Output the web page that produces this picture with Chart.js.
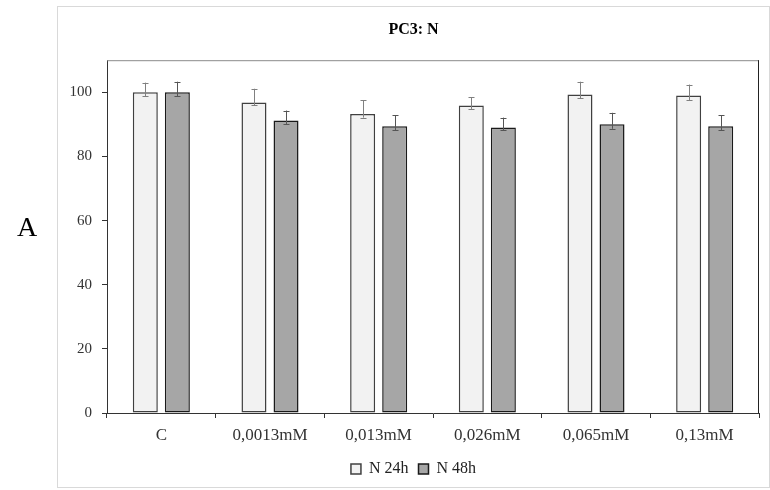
<!DOCTYPE html>
<html>
<head>
<meta charset="utf-8">
<script src="https://cdn.jsdelivr.net/npm/chart.js@4"></script>
<style>
  body { margin: 0; background: #fff; }
  #wrap { position: relative; width: 770px; height: 490px; }
</style>
</head>
<body>
<div id="wrap"><canvas id="chart" width="770" height="490"></canvas></div>
<script>
// Data
const categories = ["C", "0,0013mM", "0,013mM", "0,026mM", "0,065mM", "0,13mM"];
const n24 = [100, 96.8, 93.2, 95.9, 99.3, 99.0];
const n48 = [100, 91.2, 89.4, 89.0, 90.0, 89.4];
const err24Plus = [3.0, 4.3, 4.3, 2.5, 4.0, 3.4];
const err24Minus = [1.3, 0.9, 1.1, 1.1, 1.2, 1.4];
const err48Plus = [3.3, 3.1, 3.4, 3.1, 3.6, 3.5];
const err48Minus = [1.3, 1.2, 1.2, 0.8, 1.4, 1.2];
const yTicks = [0, 20, 40, 60, 80, 100];

const serif = "'Liberation Serif', 'DejaVu Serif', serif";

// frame around the chart, the big "A" and the plot box top/right
const framePlugin = {
    id: 'frame',
    beforeDraw(chart) {
        const ctx = chart.ctx;
        ctx.save();
        ctx.fillStyle = '#fff';
        ctx.fillRect(0, 0, chart.width, chart.height);
        ctx.strokeStyle = '#d9d9d9';
        ctx.lineWidth = 1;
        ctx.strokeRect(57.5, 6.5, 712, 481);
        ctx.fillStyle = '#000';
        ctx.font = "28px " + serif;
        ctx.textAlign = 'center';
        ctx.textBaseline = 'middle';
        ctx.fillText('A', 27, 229);
        ctx.restore();
    },
    afterDraw(chart) {
        const a = chart.chartArea;
        const ctx = chart.ctx;
        ctx.save();
        ctx.lineWidth = 1;
        ctx.strokeStyle = '#8c8c8c';
        ctx.beginPath();
        ctx.moveTo(a.left, a.top + 0.5);
        ctx.lineTo(a.right, a.top + 0.5);
        ctx.stroke();
        ctx.strokeStyle = '#222';
        ctx.beginPath();
        ctx.moveTo(a.right - 0.5, a.top);
        ctx.lineTo(a.right - 0.5, a.bottom);
        ctx.stroke();
        ctx.restore();
    }
};

// error bars drawn on top of each bar
const errorPlugin = {
    id: 'errors',
    afterDatasetsDraw(chart) {
        const ctx = chart.ctx;
        const y = chart.scales.y;
        const sets = [
            { plus: err24Plus, minus: err24Minus, color: '#808080' },
            { plus: err48Plus, minus: err48Minus, color: '#555555' }
        ];
        ctx.save();
        ctx.lineWidth = 1;
        sets.forEach((s, di) => {
            const meta = chart.getDatasetMeta(di);
            const values = chart.data.datasets[di].data;
            meta.data.forEach((bar, i) => {
                const x = Math.round(bar.x) + 0.5;
                const top = y.getPixelForValue(values[i] + s.plus[i]);
                const bottom = y.getPixelForValue(values[i] - s.minus[i]);
                ctx.strokeStyle = s.color;
                ctx.beginPath();
                ctx.moveTo(x, top);
                ctx.lineTo(x, bottom);
                ctx.moveTo(x - 3, Math.round(top) + 0.5);
                ctx.lineTo(x + 3, Math.round(top) + 0.5);
                ctx.moveTo(x - 3, Math.round(bottom) + 0.5);
                ctx.lineTo(x + 3, Math.round(bottom) + 0.5);
                ctx.stroke();
            });
        });
        ctx.restore();
    }
};

new Chart(document.getElementById('chart'), {
    type: 'bar',
    data: {
        labels: categories,
        datasets: [
            {
                label: 'N 24h',
                data: n24,
                backgroundColor: '#f2f2f2',
                borderColor: '#404040',
                borderWidth: 1.5,
                borderSkipped: false
            },
            {
                label: 'N 48h',
                data: n48,
                backgroundColor: '#a6a6a6',
                borderColor: '#1a1a1a',
                borderWidth: 1.5,
                borderSkipped: false
            }
        ]
    },
    options: {
        responsive: false,
        animation: false,
        categoryPercentage: 0.59,
        barPercentage: 0.78,
        layout: { padding: { left: 57, right: 0, top: 6, bottom: 3 } },
        plugins: {
            title: {
                display: true,
                text: 'PC3: N',
                color: '#000',
                font: { family: serif, size: 16, weight: 'bold' },
                padding: { top: 14, bottom: 21 }
            },
            legend: {
                position: 'bottom',
                labels: {
                    color: '#222',
                    font: { family: serif, size: 16 },
                    boxWidth: 10,
                    boxHeight: 10,
                    padding: 10
                }
            },
            tooltip: { enabled: false }
        },
        scales: {
            x: {
                grid: {
                    display: true,
                    drawOnChartArea: false,
                    drawTicks: true,
                    tickLength: 5,
                    color: '#333'
                },
                border: { display: true, color: '#333', width: 1 },
                ticks: {
                    color: '#333',
                    font: { family: serif, size: 17 },
                    padding: 7,
                    maxRotation: 0
                },
                afterFit(scale) { scale.height = 38; }
            },
            y: {
                min: 0,
                max: 110,
                grid: {
                    display: true,
                    drawOnChartArea: false,
                    drawTicks: true,
                    tickLength: 5,
                    color: '#333'
                },
                border: { display: true, color: '#333', width: 1 },
                ticks: {
                    color: '#333',
                    font: { family: serif, size: 15 },
                    padding: 10
                },
                afterBuildTicks(scale) {
                    scale.ticks = yTicks.map(v => ({ value: v }));
                },
                afterFit(scale) { scale.width = 50; }
            },
            // empty right-hand axis, only keeps the plot off the frame edge
            yRight: {
                position: 'right',
                min: 0,
                max: 110,
                grid: { display: false },
                border: { display: false },
                ticks: { display: false },
                afterFit(scale) { scale.width = 11; }
            }
        }
    },
    plugins: [framePlugin, errorPlugin]
});
</script>
</body>
</html>
